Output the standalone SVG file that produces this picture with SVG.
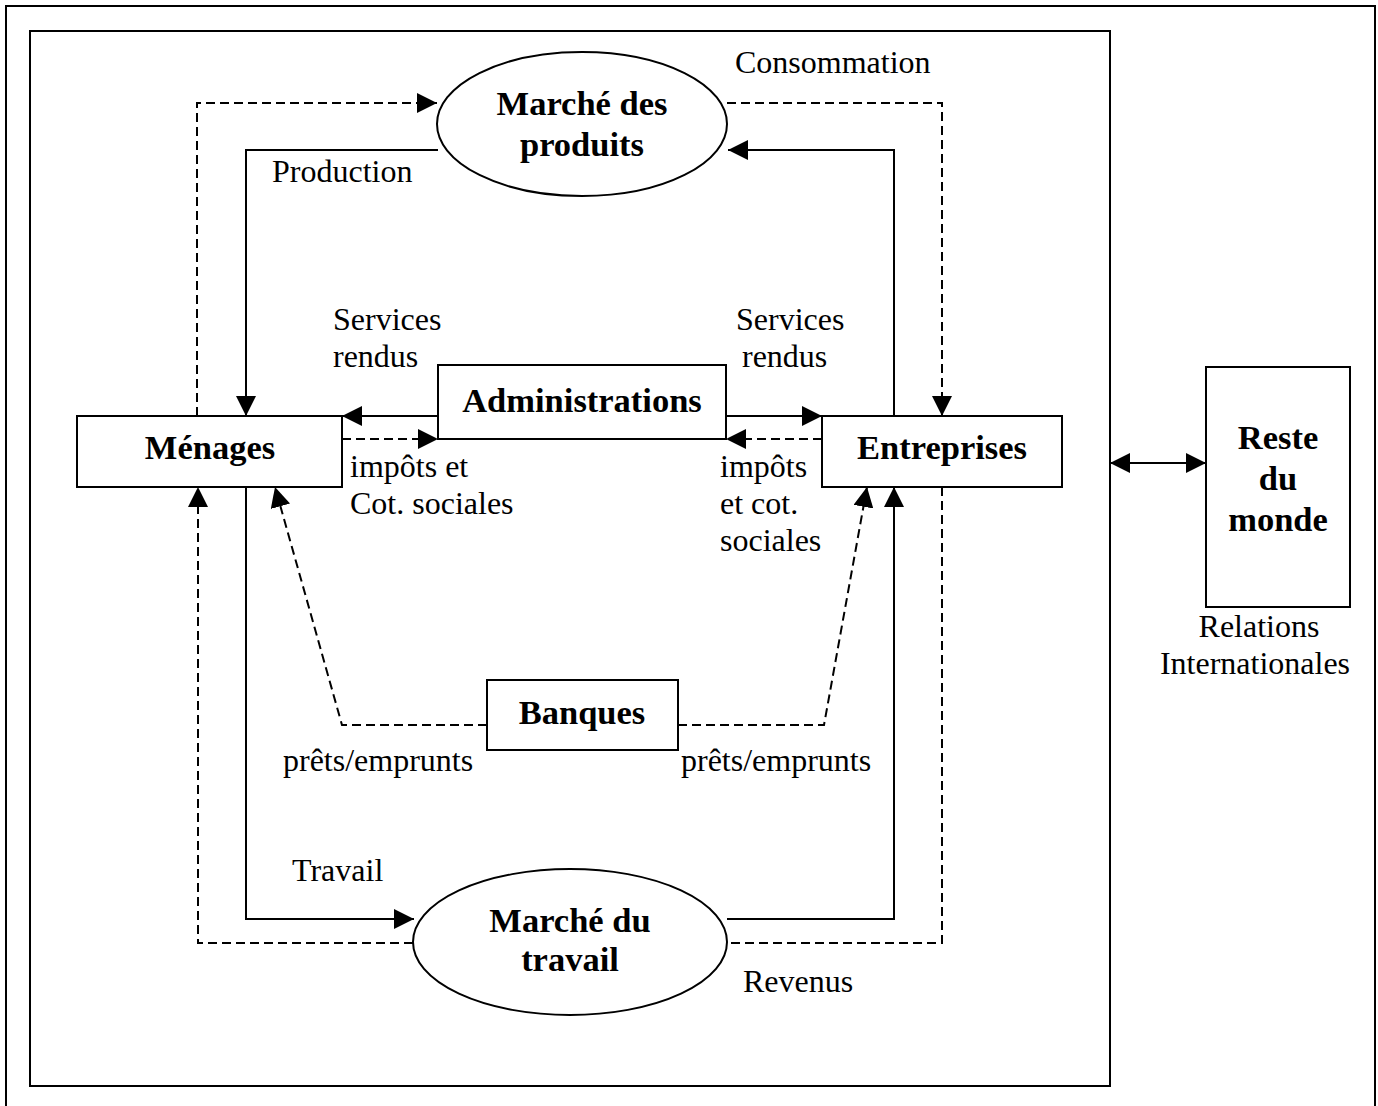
<svg xmlns="http://www.w3.org/2000/svg" width="1378" height="1106" viewBox="0 0 1378 1106">
<style>
.frame{fill:none;stroke:#000;stroke-width:2}
.box{fill:#fff;stroke:#000;stroke-width:2}
.ln{fill:none;stroke:#000;stroke-width:2}
.dl{fill:none;stroke:#000;stroke-width:2;stroke-dasharray:9 5}
.t{font-family:"Liberation Serif","Times New Roman",serif;font-size:32px;fill:#000}
.b{font-family:"Liberation Serif","Times New Roman",serif;font-size:34.5px;font-weight:bold;fill:#000;text-anchor:middle}
</style>
<defs>
<marker id="ah" markerUnits="userSpaceOnUse" markerWidth="20" markerHeight="20" refX="20" refY="10" orient="auto">
<path d="M0,0 L20,10 L0,20 z" fill="#000"/>
</marker>
<marker id="as" markerUnits="userSpaceOnUse" markerWidth="20" markerHeight="20" refX="0" refY="10" orient="auto">
<path d="M20,0 L0,10 L20,20 z" fill="#000"/>
</marker>
</defs>
<rect class="frame" x="6" y="6" width="1369" height="1110"/>
<rect class="frame" x="30" y="31" width="1080" height="1055"/>

<g id="connectors">
<path class="dl" d="M197,416 V103 H437" marker-end="url(#ah)"/>
<path class="ln" d="M438,150 H246 V416" marker-end="url(#ah)"/>
<path class="dl" d="M727,103 H942 V416" marker-end="url(#ah)"/>
<path class="ln" d="M894,416 V150 H728" marker-end="url(#ah)"/>
<path class="ln" d="M438,416 H342" marker-end="url(#ah)"/>
<path class="dl" d="M342,439 H438" marker-end="url(#ah)"/>
<path class="ln" d="M726,416 H822" marker-end="url(#ah)"/>
<path class="dl" d="M822,439 H726" marker-end="url(#ah)"/>
<path class="ln" d="M246,487 V919 H414" marker-end="url(#ah)"/>
<path class="dl" d="M413,943 H198 V487" marker-end="url(#ah)"/>
<path class="ln" d="M727,919 H894 V487" marker-end="url(#ah)"/>
<path class="dl" d="M942,487 V943 H728"/>
<path class="dl" d="M487,725 H342 L275,487" marker-end="url(#ah)"/>
<path class="dl" d="M678,725 H824 L867,487" marker-end="url(#ah)"/>
<path class="ln" d="M1110,463 H1206" marker-start="url(#as)" marker-end="url(#ah)"/>
</g>

<g id="marche-produits">
<ellipse class="box" cx="582" cy="124" rx="145" ry="72"/>
<text class="b" x="582" y="115">Marché des</text>
<text class="b" x="582" y="156">produits</text>
</g>
<g id="administrations">
<rect class="box" x="438" y="365" width="288" height="74"/>
<text class="b" x="582" y="412">Administrations</text>
</g>
<g id="menages">
<rect class="box" x="77" y="416" width="265" height="71"/>
<text class="b" x="210" y="459">Ménages</text>
</g>
<g id="entreprises">
<rect class="box" x="822" y="416" width="240" height="71"/>
<text class="b" x="942" y="459">Entreprises</text>
</g>
<g id="banques">
<rect class="box" x="487" y="680" width="191" height="70"/>
<text class="b" x="582" y="724">Banques</text>
</g>
<g id="marche-travail">
<ellipse class="box" cx="570" cy="942" rx="157" ry="73"/>
<text class="b" x="570" y="932">Marché du</text>
<text class="b" x="570" y="971">travail</text>
</g>
<g id="reste-du-monde">
<rect class="box" x="1206" y="367" width="144" height="240"/>
<text class="b" x="1278" y="449">Reste</text>
<text class="b" x="1278" y="490">du</text>
<text class="b" x="1278" y="531">monde</text>
</g>

<g id="labels">
<text class="t" x="735" y="73">Consommation</text>
<text class="t" x="272" y="182">Production</text>
<text class="t" x="333" y="330">Services</text>
<text class="t" x="333" y="367">rendus</text>
<text class="t" x="736" y="330">Services</text>
<text class="t" x="742" y="367">rendus</text>
<text class="t" x="350" y="477">impôts et</text>
<text class="t" x="350" y="514">Cot. sociales</text>
<text class="t" x="720" y="477">impôts</text>
<text class="t" x="720" y="514">et cot.</text>
<text class="t" x="720" y="551">sociales</text>
<text class="t" x="283" y="771">prêts/emprunts</text>
<text class="t" x="681" y="771">prêts/emprunts</text>
<text class="t" x="292" y="881">Travail</text>
<text class="t" x="743" y="992">Revenus</text>
<text class="t" x="1259" y="637" text-anchor="middle">Relations</text>
<text class="t" x="1255" y="674" text-anchor="middle">Internationales</text>
</g>
</svg>
